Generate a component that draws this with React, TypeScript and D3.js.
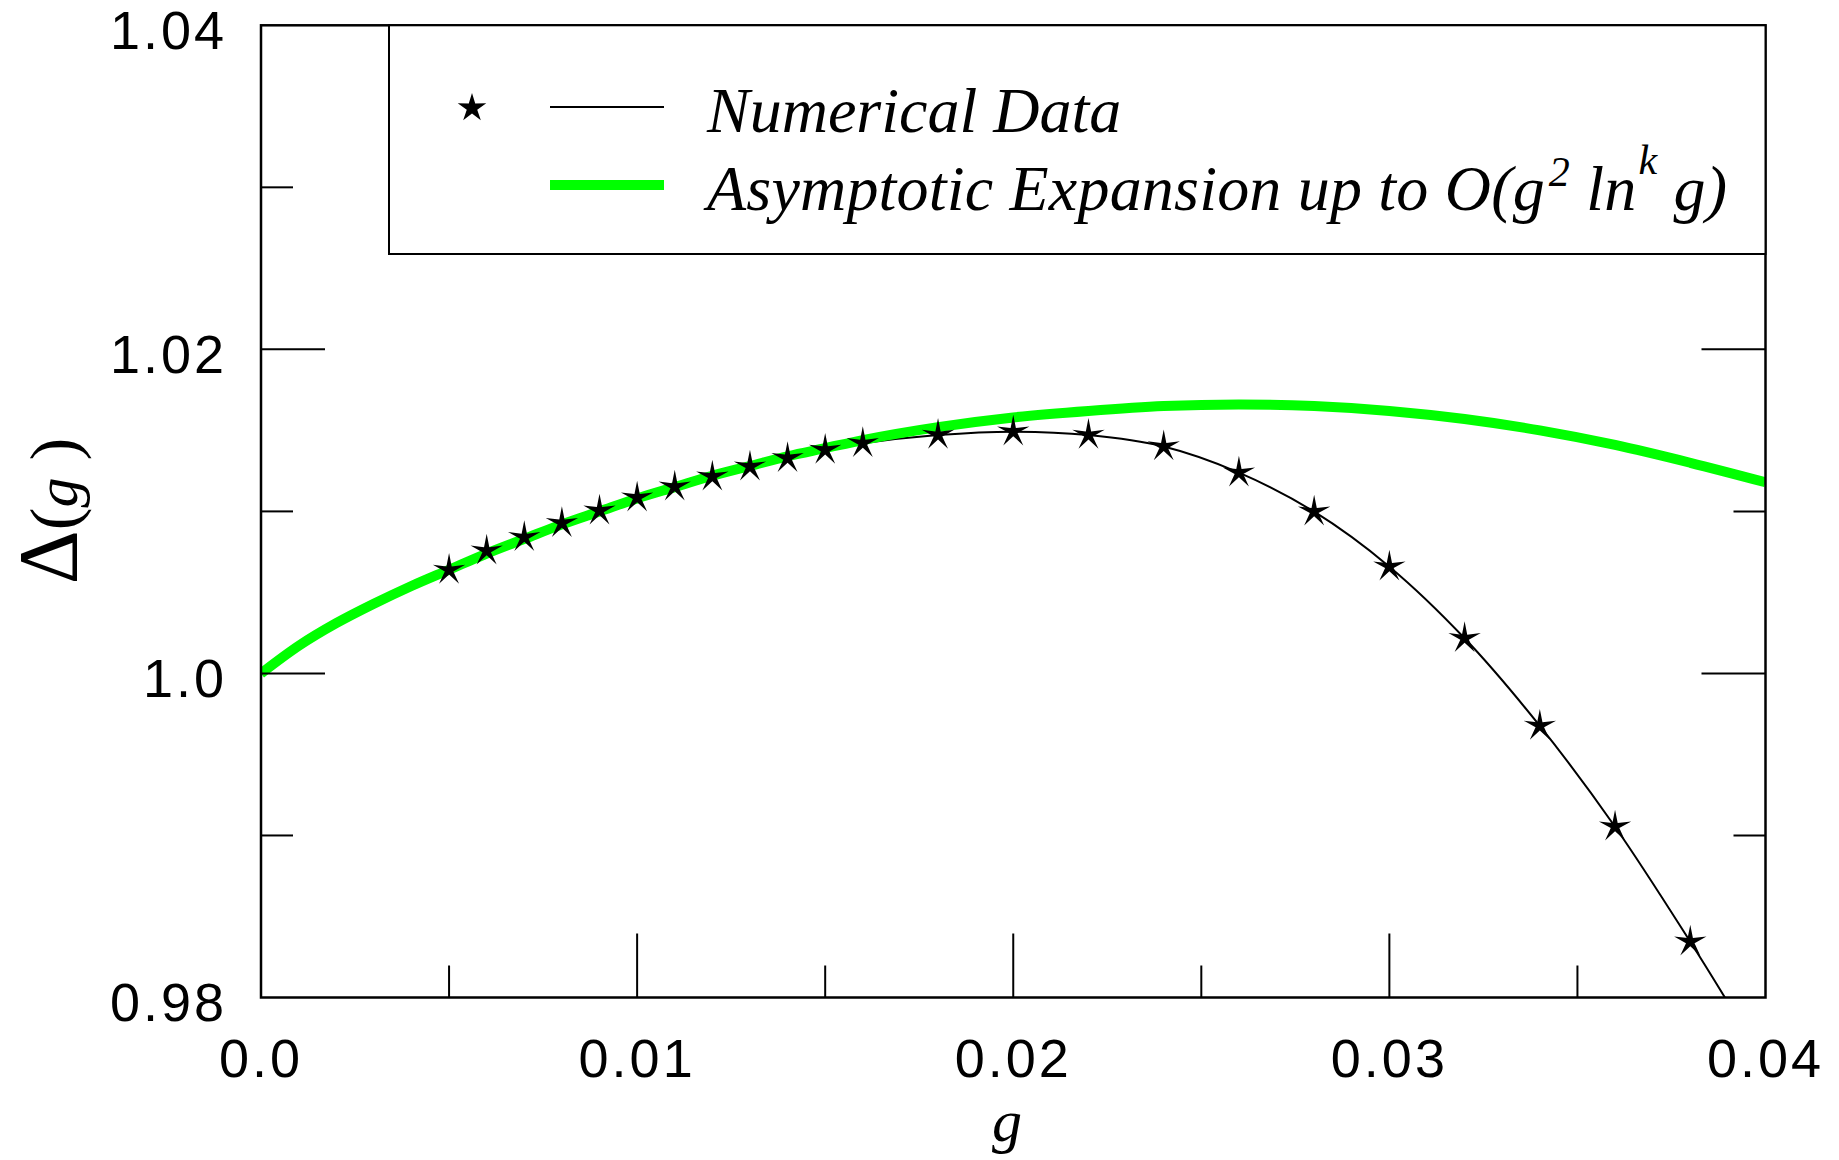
import React from 'react';
import * as d3 from 'd3';

// numerical data (stars + thin black line)
const numG = [0.005, 0.006, 0.007, 0.008, 0.009, 0.010, 0.011, 0.012, 0.013, 0.014, 0.015, 0.016,
  0.018, 0.020, 0.022, 0.024, 0.026, 0.028, 0.030, 0.032, 0.034, 0.036, 0.038];
const numD = [1.00638, 1.00757, 1.0084, 1.00927, 1.01004, 1.01085, 1.01152, 1.01214, 1.01276, 1.01328, 1.01379, 1.0142,
  1.01471, 1.01492, 1.01471, 1.014, 1.01239, 1.00998, 1.00659, 1.00217, 0.99676, 0.99054, 0.98344];
// line runs on past the last star, below the frame
const tailG = [0.039];
const tailD = [0.9797];

// asymptotic expansion (green)
const asyG = [0, 0.001, 0.002, 0.003, 0.004, 0.005, 0.006, 0.007, 0.008, 0.009, 0.010, 0.011, 0.012,
  0.013, 0.014, 0.015, 0.016, 0.018, 0.020, 0.022, 0.024, 0.026, 0.028, 0.030, 0.032, 0.034, 0.036, 0.038, 0.040];
const asyD = [1.0, 1.0017, 1.0031, 1.0043, 1.0054, 1.0064, 1.0074, 1.0083, 1.0092, 1.0100, 1.0108, 1.0115, 1.0122,
  1.0128, 1.0134, 1.0139, 1.0144, 1.0152, 1.0158, 1.0162, 1.0165, 1.0166, 1.0165, 1.0162, 1.0157, 1.0150, 1.0141, 1.0130, 1.0118];

const xMajor = [0, 0.01, 0.02, 0.03, 0.04];
const xMajorLabels = ['0.0', '0.01', '0.02', '0.03', '0.04'];
const xMinor = [0.005, 0.015, 0.025, 0.035];
const yMajor = [0.98, 1.0, 1.02, 1.04];
const yMajorLabels = ['0.98', '1.0', '1.02', '1.04'];
const yMinor = [0.99, 1.01, 1.03];

const W = 1839, H = 1160;
const left = 261, right = 1765.5, top = 25.3, bottom = 997.5;

function starPath(ro: number, ri: number) {
  const pts = d3.range(10).map(i => {
    const a = -Math.PI / 2 + (i * Math.PI) / 5;
    const r = i % 2 === 0 ? ro : ri;
    return [r * Math.cos(a), r * Math.sin(a)];
  });
  return 'M' + pts.map(p => p[0].toFixed(2) + ',' + p[1].toFixed(2)).join('L') + 'Z';
}

export default function App() {
  const x = d3.scaleLinear().domain([0, 0.04]).range([left, right]);
  const y = d3.scaleLinear().domain([0.98, 1.04]).range([bottom, top]);

  const line = d3.line<[number, number]>()
    .x(d => x(d[0]))
    .y(d => y(d[1]))
    .curve(d3.curveCatmullRom);
  const smooth = d3.line<[number, number]>()
    .x(d => x(d[0]))
    .y(d => y(d[1]))
    .curve(d3.curveMonotoneX);

  const numPts: [number, number][] = numG.map((g, i) => [g, numD[i]]);
  const tailPts: [number, number][] = tailG.map((g, i) => [g, tailD[i]]);
  const asyPts: [number, number][] = asyG.map((g, i) => [g, asyD[i]]);

  const star = starPath(17, 4.5);
  const legendStar = starPath(15, 5.5);

  const tickFont = { fontFamily: '"Liberation Sans", Arial, sans-serif', fontSize: 54, letterSpacing: 3 };
  const serif = '"Liberation Serif", "Times New Roman", serif';

  return (
    <svg width={W} height={H} style={{ position: 'absolute', left: 0, top: 0, display: 'block', background: '#fff' }}>
      <defs>
        <clipPath id="plot">
          <rect x={left} y={top} width={right - left} height={bottom - top} />
        </clipPath>
      </defs>

      {/* curves */}
      <g clipPath="url(#plot)">
        <path d={line([...numPts, ...tailPts]) || ''} fill="none" stroke="#000" strokeWidth={2} />
        <path d={smooth(asyPts) || ''} fill="none" stroke="#00ff00" strokeWidth={10} />
      </g>
      {numPts.map((p, i) => (
        <path key={i} d={star} transform={`translate(${x(p[0])},${y(p[1])})`} fill="#000" />
      ))}

      {/* ticks */}
      <g stroke="#000" strokeWidth={2}>
        {xMajor.slice(1, -1).map(v => (
          <line key={'xm' + v} x1={x(v)} x2={x(v)} y1={bottom} y2={bottom - 64} />
        ))}
        {xMinor.map(v => (
          <line key={'xn' + v} x1={x(v)} x2={x(v)} y1={bottom} y2={bottom - 32} />
        ))}
        {yMajor.slice(1, -1).map(v => (
          <g key={'ym' + v}>
            <line x1={left} x2={left + 64} y1={y(v)} y2={y(v)} />
            <line x1={right} x2={right - 64} y1={y(v)} y2={y(v)} />
          </g>
        ))}
        {yMinor.map(v => (
          <g key={'yn' + v}>
            <line x1={left} x2={left + 32} y1={y(v)} y2={y(v)} />
            <line x1={right} x2={right - 32} y1={y(v)} y2={y(v)} />
          </g>
        ))}
      </g>

      {/* frame */}
      <rect x={left} y={top} width={right - left} height={bottom - top} fill="none" stroke="#000" strokeWidth={2.5} />

      {/* tick labels */}
      {xMajor.map((v, i) => (
        <text key={'xl' + v} x={x(v)} y={1077} textAnchor="middle" style={tickFont}>{xMajorLabels[i]}</text>
      ))}
      {yMajor.map((v, i) => (
        <text key={'yl' + v} x={227} y={y(v) + 23.5} textAnchor="end" style={tickFont}>{yMajorLabels[i]}</text>
      ))}

      {/* axis titles */}
      <text x={1007} y={1141} textAnchor="middle" fontFamily={serif} fontStyle="italic" fontSize={60}>g</text>
      <text transform={`translate(77,511) rotate(-90)`} textAnchor="middle" fontFamily={serif}>
        <tspan fontSize={84}>Δ</tspan>
        <tspan fontSize={68}>(</tspan>
        <tspan fontSize={60} fontStyle="italic">g</tspan>
        <tspan fontSize={68}> )</tspan>
      </text>

      {/* legend */}
      <rect x={389} y={top} width={right - 389} height={254 - top} fill="#fff" stroke="#000" strokeWidth={2} />
      <path d={legendStar} transform="translate(472,108)" fill="#000" />
      <line x1={550} x2={664} y1={107} y2={107} stroke="#000" strokeWidth={2} />
      <line x1={550} x2={664} y1={185} y2={185} stroke="#00ff00" strokeWidth={10} />
      <text x={707} y={132} fontFamily={serif} fontStyle="italic" fontSize={64}>
        Numerical Data
      </text>
      <text x={707} y={210} fontFamily={serif} fontStyle="italic" fontSize={64} textLength={1020} lengthAdjust="spacing">
        <tspan>Asymptotic Expansion up to O(g</tspan>
        <tspan fontSize={42} dx={4} dy={-24}>2</tspan>
        <tspan dy={24}> ln</tspan>
        <tspan fontSize={42} dx={2} dy={-36}>k</tspan>
        <tspan dy={36}> g)</tspan>
      </text>
    </svg>
  );
}
